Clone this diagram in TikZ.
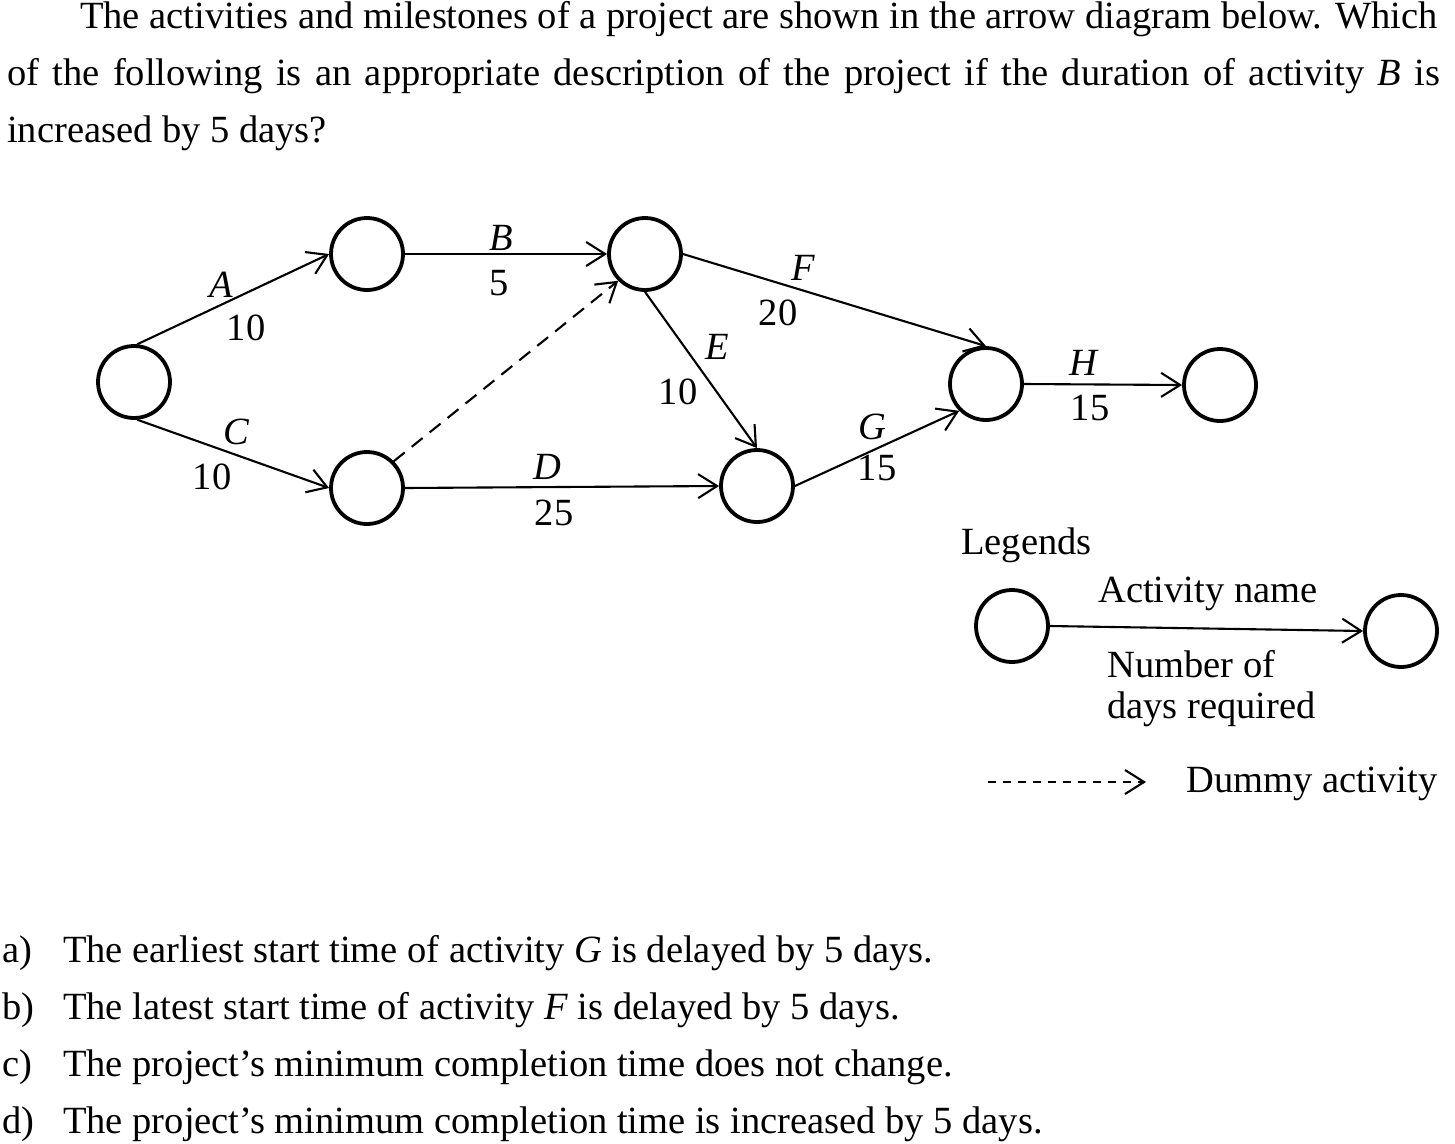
\documentclass[tikz,border=0pt]{standalone}
\usepackage{fontspec}
\setmainfont{Liberation Serif}
\usetikzlibrary{arrows.meta}
\tikzset{
  ev/.style={circle, draw, line width=3.8pt, minimum size=72pt, inner sep=0pt},
  act/.style={line width=2.1pt, -{Straight Barb[length=19pt,width=24pt,line width=2.1pt]}},
  dum/.style={act, dash pattern=on 14pt off 9pt},
  dumleg/.style={act, dash pattern=on 8pt off 7pt},
  lbl/.style={inner sep=0pt, anchor=center},
  txt/.style={inner sep=0pt, anchor=base west},
}
\begin{document}
\begin{tikzpicture}[x=1pt, y=-1pt, font=\fontsize{38.5pt}{46pt}\selectfont]
\useasboundingbox (0,0) rectangle (1455,1143);
% question text
\node[txt] (q1) at (80,28) {The activities and milestones of a project are shown in the arrow diagram below. Which};
\node[txt] (q2) at (7,85) {\makebox[1433pt][s]{of the following is an appropriate description of the project if the duration of activity \textit{B} is}};
\node[txt] (q3) at (7,142) {increased by 5 days?};
% events
\node[ev] (n1) at (134,382) {};
\node[ev] (n2) at (367,254) {};
\node[ev] (n3) at (367,488) {};
\node[ev] (n4) at (645,254) {};
\node[ev] (n5) at (757,486) {};
\node[ev] (n6) at (986,384) {};
\node[ev] (n7) at (1220,385) {};
% activities
\draw[act] (n1.85) -- (n2.west);
\draw[act] (n1.275) -- (n3.west);
\draw[act] (n2.east) -- (n4.west);
\draw[act] (n3.east) -- (n5.west);
\draw[dum] (n3.north east) -- (n4.south west);
\draw[act] (n4.south) -- (n5.north);
\draw[act] (n4.east) -- (n6.north);
\draw[act] (n5.east) -- (n6.south west);
\draw[act] (n6.east) -- (n7.west);
% labels
\node[lbl] (la) at (221,285) {\textit{A}};
\node[lbl] (da) at (246,328) {10};
\node[lbl] (lc) at (237,432) {\textit{C}};
\node[lbl] (dc) at (212,477) {10};
\node[lbl] (lb) at (501,238) {\textit{B}};
\node[lbl] (db) at (499,283) {5};
\node[lbl] (ld) at (547,467) {\textit{D}};
\node[lbl] (dd) at (554,513) {25};
\node[lbl] (le) at (717,347) {\textit{E}};
\node[lbl] (de) at (678,392) {10};
\node[lbl] (lf) at (803,268) {\textit{F}};
\node[lbl] (df) at (778,313) {20};
\node[lbl] (lg) at (872,427) {\textit{G}};
\node[lbl] (dg) at (877,468) {15};
\node[lbl] (lh) at (1084,363) {\textit{H}};
\node[lbl] (dh) at (1090,408) {15};
% legend
\node[txt] (leg) at (961,554) {Legends};
\node[ev] (l1) at (1012,626) {};
\node[ev] (l2) at (1401,631) {};
\draw[act] (l1.east) -- (l2.west);
\node[txt] (lan) at (1098,602) {Activity name};
\node[txt] (lnd1) at (1107,677) {Number of};
\node[txt] (lnd2) at (1107,718) {days required};
\coordinate (dl1) at (988,782);
\coordinate (dl2) at (1146,782);
\draw[dumleg] (dl1) -- (dl2);
\node[txt] (ldum) at (1186,792) {Dummy activity};
% answers
\node[txt] (aa) at (2,962) {a)};
\node[txt] (ta) at (63,962) {The earliest start time of activity \textit{G} is delayed by 5 days.};
\node[txt] (ab) at (2,1019) {b)};
\node[txt] (tb) at (63,1019) {The latest start time of activity \textit{F} is delayed by 5 days.};
\node[txt] (ac) at (2,1076) {c)};
\node[txt] (tc) at (63,1076) {The project’s minimum completion time does not change.};
\node[txt] (ad) at (2,1133) {d)};
\node[txt] (td) at (63,1133) {The project’s minimum completion time is increased by 5 days.};
\end{tikzpicture}
\end{document}
